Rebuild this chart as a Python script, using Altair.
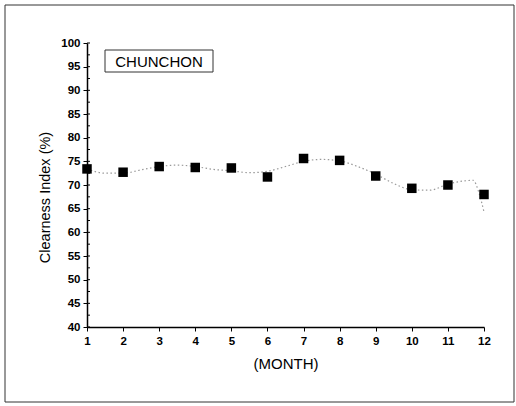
import altair as alt
import pandas as pd

months = list(range(1, 13))
clearness = [73.4, 72.7, 73.9, 73.7, 73.6, 71.7, 75.6, 75.2, 71.9, 69.3, 70.0, 68.0]

fit_x = [1, 1.5, 2, 2.5, 3, 3.5, 4, 4.5, 5, 5.5, 6, 6.5, 7, 7.5, 8, 8.5, 9, 9.5, 10, 10.5, 11, 11.5, 11.7, 11.85, 12]
fit_y = [73.4, 72.5, 72.5, 73.2, 73.9, 74.2, 73.9, 73.3, 73.0, 72.6, 72.9, 73.9, 75.0, 75.4, 75.1, 73.9, 72.3, 70.3, 69.0, 68.9, 70.2, 70.9, 71.0, 68.6, 64.3]

minor_ticks = [40 + 2.5 * i for i in range(25)]
major_ticks = [40 + 5 * i for i in range(13)]

pts = pd.DataFrame({"month": months, "ci": clearness})
fit = pd.DataFrame({"month": fit_x, "ci": fit_y})
minor = pd.DataFrame({"ci": minor_ticks})

FONT = "Liberation Sans"

xs = alt.Scale(domain=[1, 12], nice=False)
ys = alt.Scale(domain=[40, 100], nice=False)

xax = alt.Axis(values=months, format="d", title="(MONTH)", grid=False,
               tickSize=4, tickColor="#000", domainColor="#000", domainWidth=1.5,
               labelOverlap=False, labelFlush=False, labelBound=False,
               labelFont=FONT, labelFontSize=11.5, labelFontWeight="bold", labelColor="#000",
               titleFont=FONT, titleFontSize=15, titleFontWeight="normal", titleColor="#000",
               titlePadding=10, labelPadding=4)
yax = alt.Axis(values=major_ticks, format="d", title="Clearness Index (%)", grid=False,
               tickSize=4, tickColor="#000", domainColor="#000", domainWidth=1.5,
               labelOverlap=False, labelFlush=False, labelBound=False,
               labelFont=FONT, labelFontSize=11.5, labelFontWeight="bold", labelColor="#000",
               titleFont=FONT, titleFontSize=14.5, titleFontWeight="normal", titleColor="#000",
               titlePadding=8, labelPadding=3, titleY=154)

X = alt.X("month:Q", scale=xs, axis=xax)
Y = alt.Y("ci:Q", scale=ys, axis=yax)

line = alt.Chart(fit).mark_line(interpolate="monotone", color="#999", strokeDash=[1.5, 2.5], strokeWidth=1.2).encode(
    x=X, y=Y,
)

points = alt.Chart(pts).mark_square(size=90, color="#000", opacity=1).encode(
    x=X, y=Y,
)

minor_rules = alt.Chart(minor).mark_rule(color="#000", strokeWidth=1).encode(
    y=Y,
    x=alt.value(0),
    x2=alt.value(3),
)

box = alt.Chart(pts.head(1)).mark_rect(fill="white", stroke="#333", strokeWidth=1).encode(
    x=alt.value(18), x2=alt.value(126), y=alt.value(7), y2=alt.value(29)
)
label = alt.Chart(pts.head(1)).mark_text(text="CHUNCHON", font=FONT, fontSize=15, color="#000").encode(
    x=alt.value(72), y=alt.value(18.5)
)
frame = alt.Chart(pts.head(1)).mark_rect(fill=None, stroke="#333", strokeWidth=1, clip=False).encode(
    x=alt.value(-82), x2=alt.value(427), y=alt.value(-38), y2=alt.value(359)
)

chart = alt.layer(line, points, minor_rules, frame, box, label).properties(
    width=397, height=284,
    autosize=alt.AutoSizeParams(type="none"),
    padding={"left": 87, "top": 43, "right": 32, "bottom": 79},
    background="white",
).configure_view(stroke=None)

chart.save("out.html", embed_options={"renderer": "svg", "actions": False})
